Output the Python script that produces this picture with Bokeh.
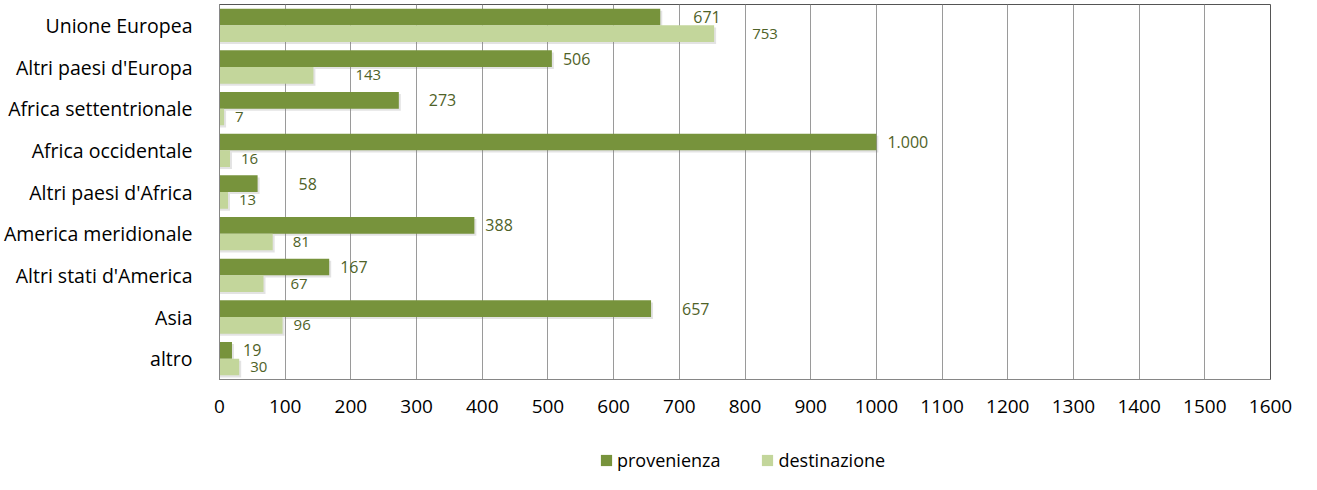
from bokeh.plotting import figure
from bokeh.layouts import column
from bokeh.models import Range1d, FactorRange, Legend, LegendItem, ColumnDataSource, FixedTicker
from bokeh.transform import dodge
from bokeh.core.properties import value
from bokeh.embed import file_html
from bokeh.resources import INLINE

# ---- data ----
categories = ["Unione Europea", "Altri paesi d'Europa", "Africa settentrionale",
              "Africa occidentale", "Altri paesi d'Africa", "America meridionale",
              "Altri stati d'America", "Asia", "altro"]
provenienza = [671, 506, 273, 1000, 58, 388, 167, 657, 19]
destinazione = [753, 143, 7, 16, 13, 81, 67, 96, 30]
provenienza_labels = ["671", "506", "273", "1.000", "58", "388", "167", "657", "19"]
destinazione_labels = ["753", "143", "7", "16", "13", "81", "67", "96", "30"]
series_names = ["provenienza", "destinazione"]
x_ticks = [0, 100, 200, 300, 400, 500, 600, 700, 800, 900, 1000,
           1100, 1200, 1300, 1400, 1500, 1600]

# ---- label placement (pixels, style only) ----
prov_label_dx = [33, 11, 30, 11, 41, 11, 11, 31, 11]
dest_label_dx = [38, 42, 11, 11, 11, 20, 27, 11, 11]

DARK = "#77933C"
LIGHT = "#C3D69B"
LABEL_COLOR = "#4F6228"
FONT = "Open Sans"

src = ColumnDataSource(dict(
    cat=categories, prov=provenienza, dest=destinazione,
    prov_lbl=provenienza_labels, dest_lbl=destinazione_labels,
    prov_dx=prov_label_dx, dest_dx=dest_label_dx,
))

W, H_MAIN, H_LEG = 1301, 430, 44
p = figure(width=W, height=H_MAIN, output_backend="svg", toolbar_location=None,
           y_range=FactorRange(factors=list(reversed(categories)), range_padding=0),
           x_range=Range1d(0, 1600),
           min_border_left=211, min_border_right=31, min_border_top=4, min_border_bottom=51)
p.background_fill_color = "white"
p.border_fill_color = "white"
p.outline_line_color = "#555555"
p.outline_line_width = 1

# grid
p.ygrid.grid_line_color = None
p.xgrid.grid_line_color = "#9A9A9A"
p.xgrid.grid_line_width = 1
p.xaxis.ticker = FixedTicker(ticks=x_ticks)

# soft bar shadows (offset a couple of pixels right / down)
SH = 0.05
for fld, off in (("prov", 0.2), ("dest", -0.2)):
    p.hbar(y=dodge("cat", off - SH, range=p.y_range), right=dodge(fld, 3), left=0,
           height=0.4, source=src, fill_color="#7F7F7F", fill_alpha=0.22, line_color=None)

p.hbar(y=dodge("cat", 0.2, range=p.y_range), right="prov", left=0, height=0.4,
       source=src, fill_color=DARK, line_color=None)
p.hbar(y=dodge("cat", -0.2, range=p.y_range), right="dest", left=0, height=0.4,
       source=src, fill_color=LIGHT, line_color=None)

p.text(x="prov", y=dodge("cat", 0.2, range=p.y_range), text="prov_lbl", x_offset="prov_dx",
       source=src, text_align="left", text_baseline="middle",
       text_font=value(FONT), text_font_size="16px", text_color=LABEL_COLOR)
p.text(x="dest", y=dodge("cat", -0.2, range=p.y_range), text="dest_lbl", x_offset="dest_dx",
       source=src, text_align="left", text_baseline="middle",
       text_font=value(FONT), text_font_size="15px", text_color=LABEL_COLOR)

for ax in (p.xaxis, p.yaxis):
    ax.axis_line_color = "#868686"
    ax.axis_line_width = 1
    ax.major_tick_line_color = None
    ax.minor_tick_line_color = None
    ax.major_label_text_font = FONT
    ax.major_label_text_color = "black"

p.xaxis.major_label_text_font_size = "19px"
p.xaxis.major_label_standoff = 14
p.yaxis.major_label_text_font_size = "19.5px"
p.yaxis.major_label_standoff = 21

# ---- legend strip (separate small figure under the chart) ----
pl = figure(width=W, height=H_LEG, output_backend="svg", toolbar_location=None,
            x_range=Range1d(0, 1), y_range=Range1d(0, 1),
            x_axis_location=None, y_axis_location=None,
            min_border_left=0, min_border_right=0, min_border_top=0, min_border_bottom=0)
pl.grid.visible = False
pl.outline_line_color = None
pl.background_fill_color = "white"
pl.border_fill_color = "white"
# hidden renderers that only supply the legend swatches
l1 = pl.hbar(y="prov", right="prov", left=0, height=0.4, source=src,
             fill_color=DARK, line_color=None, visible=False)
l2 = pl.hbar(y="dest", right="dest", left=0, height=0.4, source=src,
             fill_color=LIGHT, line_color=None, visible=False)

legend = Legend(items=[LegendItem(label=series_names[0], renderers=[l1]),
                       LegendItem(label=series_names[1], renderers=[l2])],
                orientation="horizontal", location=(380, 2),
                padding=0, margin=0, spacing=40, label_standoff=4,
                glyph_width=14, glyph_height=14,
                border_line_color=None, background_fill_alpha=0,
                label_text_font=FONT, label_text_font_size="18px", label_text_color="black")
pl.add_layout(legend)

layout = column(p, pl, spacing=0)
open("out.html", "w").write(file_html(layout, INLINE))
